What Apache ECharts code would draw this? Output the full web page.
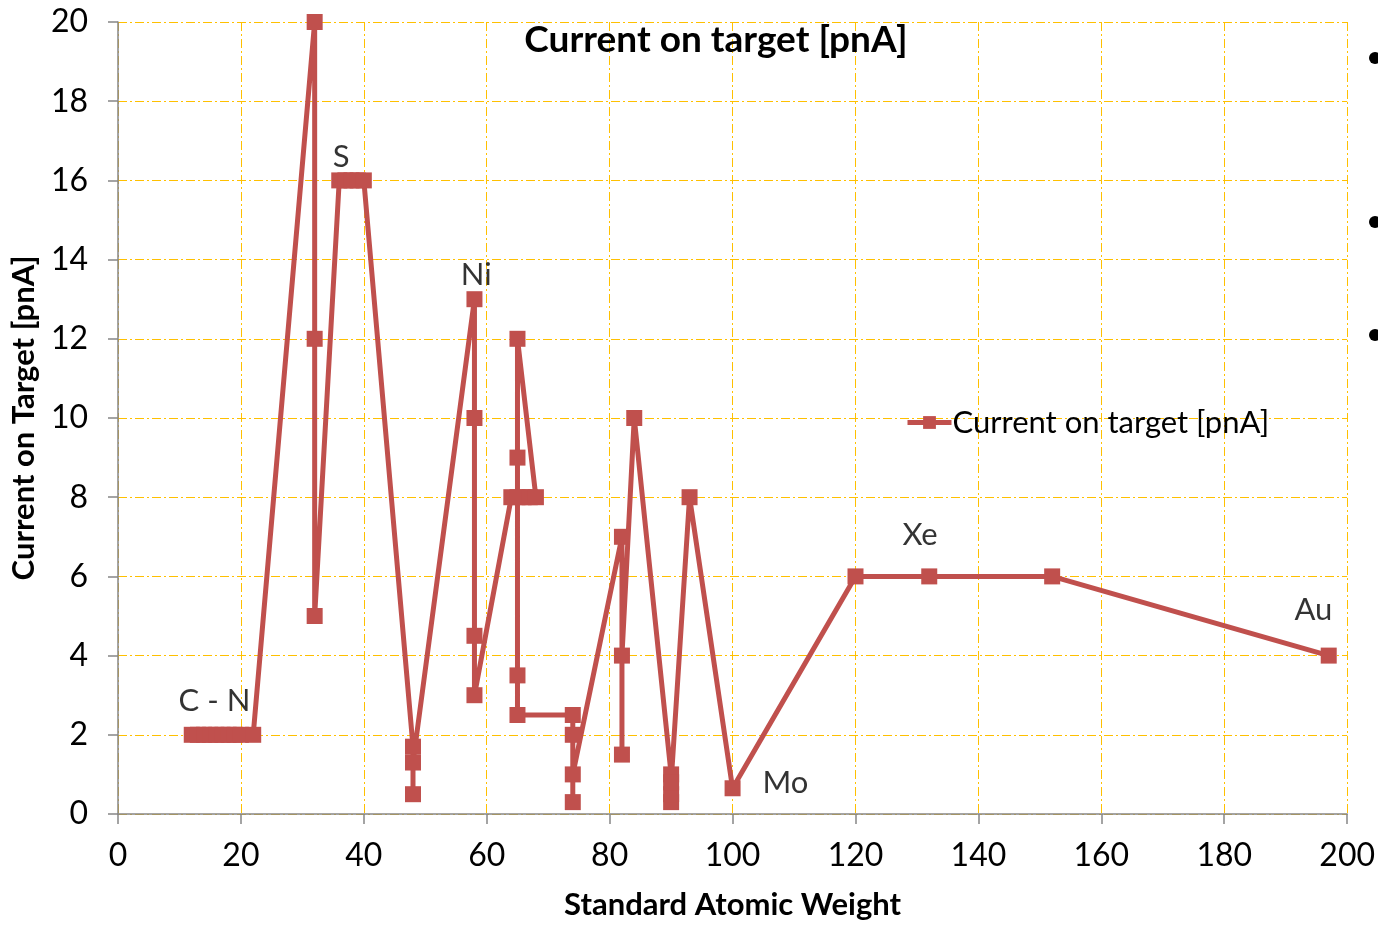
<!DOCTYPE html>
<html>
<head>
<meta charset="utf-8">
<script src="https://cdn.jsdelivr.net/npm/echarts@6/dist/echarts.min.js"></script>
<style>
html,body{margin:0;padding:0;background:#fff;overflow:hidden;}
#chart{width:1378px;height:925px;}
</style>
</head>
<body>
<div id="chart"></div>
<script>
// Data (x = standard atomic weight, y = current on target [pnA]), in plotted order
const atomicWeight = [12,13,14,15,16,17,18,19,20,22, 32,32,32, 36,37,38,39,40, 48,48,48, 58,58,58,58, 64,65,66,67,68,65,65,65,65, 74,74,74,74, 82,82,82, 84, 90,90,90,90, 93, 100, 120,132,152,197];
const current      = [2,2,2,2,2,2,2,2,2,2, 20,12,5, 16,16,16,16,16, 1.7,0.5,1.3, 13,10,4.5,3, 8,8,8,8,8,12,9,3.5,2.5, 2.5,2,0.3,1, 7,1.5,4, 10, 1,0.3,0.5,0.8, 8, 0.65, 6,6,6,4];

// Element annotations (text and anchor in data units)
const elementNames = ['C - N','S','Ni','Mo','Xe','Au'];
const elementX     = [15.7, 36.3, 58.3, 108.6, 130.5, 194.5];
const elementY     = [2.86, 16.6, 13.6, 0.78, 7.04, 5.14];

const xTicks = {min:0, max:200, interval:20};
const yTicks = {min:0, max:20, interval:2};

const seriesName = 'Current on target [pnA]';
const FONT = "Lato, 'Open Sans', sans-serif";
const RED = '#C0504D';
const GRIDC = '#FFC000';

const chart = echarts.init(document.getElementById('chart'), null, {renderer:'canvas'});
const points = atomicWeight.map((x,i)=>[x,current[i]]);
const labels = elementNames.map((n,i)=>({value:[elementX[i],elementY[i]], name:n}));

const gridLine = {show:true, lineStyle:{color:GRIDC, width:1, type:[9,3,2,3]}};

chart.setOption({
  animation:false,
  backgroundColor:'#fff',
  title:{
    text: seriesName,
    left: 711, top: 17, textAlign:'center',
    textStyle:{fontFamily:FONT, fontWeight:'bold', fontSize:37, color:'#000'}
  },
  legend:{
    data:[seriesName],
    left: 900, top: 402,
    itemWidth: 44, itemHeight: 16, itemGap: 4,
    lineStyle:{width:5, color:RED},
    itemStyle:{color:RED},
    textStyle:{fontFamily:FONT, fontSize:31, color:'#000', padding:[0,0,0,-4]}
  },
  grid:{left:118, right:26, top:22, bottom:105, containLabel:false},
  xAxis:{
    type:'value', min:xTicks.min, max:xTicks.max, interval:xTicks.interval,
    name:'Standard Atomic Weight', nameLocation:'middle', nameGap:75,
    nameTextStyle:{fontFamily:FONT, fontWeight:'bold', fontSize:31, color:'#000'},
    axisLine:{show:true, onZero:false, lineStyle:{color:'#868686', width:1.5}},
    axisTick:{show:true, length:10, inside:false, lineStyle:{color:'#868686', width:1.5}},
    axisLabel:{fontFamily:FONT, fontSize:32, color:'#000', margin:26},
    splitLine:gridLine
  },
  yAxis:{
    type:'value', min:yTicks.min, max:yTicks.max, interval:yTicks.interval,
    name:'Current on Target [pnA]', nameLocation:'middle', nameGap:73,
    nameTextStyle:{fontFamily:FONT, fontWeight:'bold', fontSize:31, color:'#000'},
    axisLine:{show:true, lineStyle:{color:'#868686', width:1.5}},
    axisTick:{show:true, length:10, lineStyle:{color:'#868686', width:1.5}},
    axisLabel:{fontFamily:FONT, fontSize:32, color:'#000', margin:30},
    splitLine:gridLine
  },
  graphic:[
    {type:'circle', shape:{cx:1375, cy:58, r:6}, style:{fill:'#000'}},
    {type:'circle', shape:{cx:1375, cy:222, r:6}, style:{fill:'#000'}},
    {type:'circle', shape:{cx:1375, cy:335, r:6}, style:{fill:'#000'}}
  ],
  series:[
    {
      name: seriesName, type:'line', data: points,
      symbol:'rect', symbolSize:16,
      lineStyle:{color:RED, width:5},
      itemStyle:{color:RED},
      clip:false, z:3
    },
    {
      name:'labels', type:'scatter', data: labels,
      symbolSize:0, silent:true, z:4,
      label:{show:true, position:'inside', formatter:p=>p.name,
        fontFamily:FONT, fontSize:31, color:'#000'}
    }
  ]
});
</script>
</body>
</html>
